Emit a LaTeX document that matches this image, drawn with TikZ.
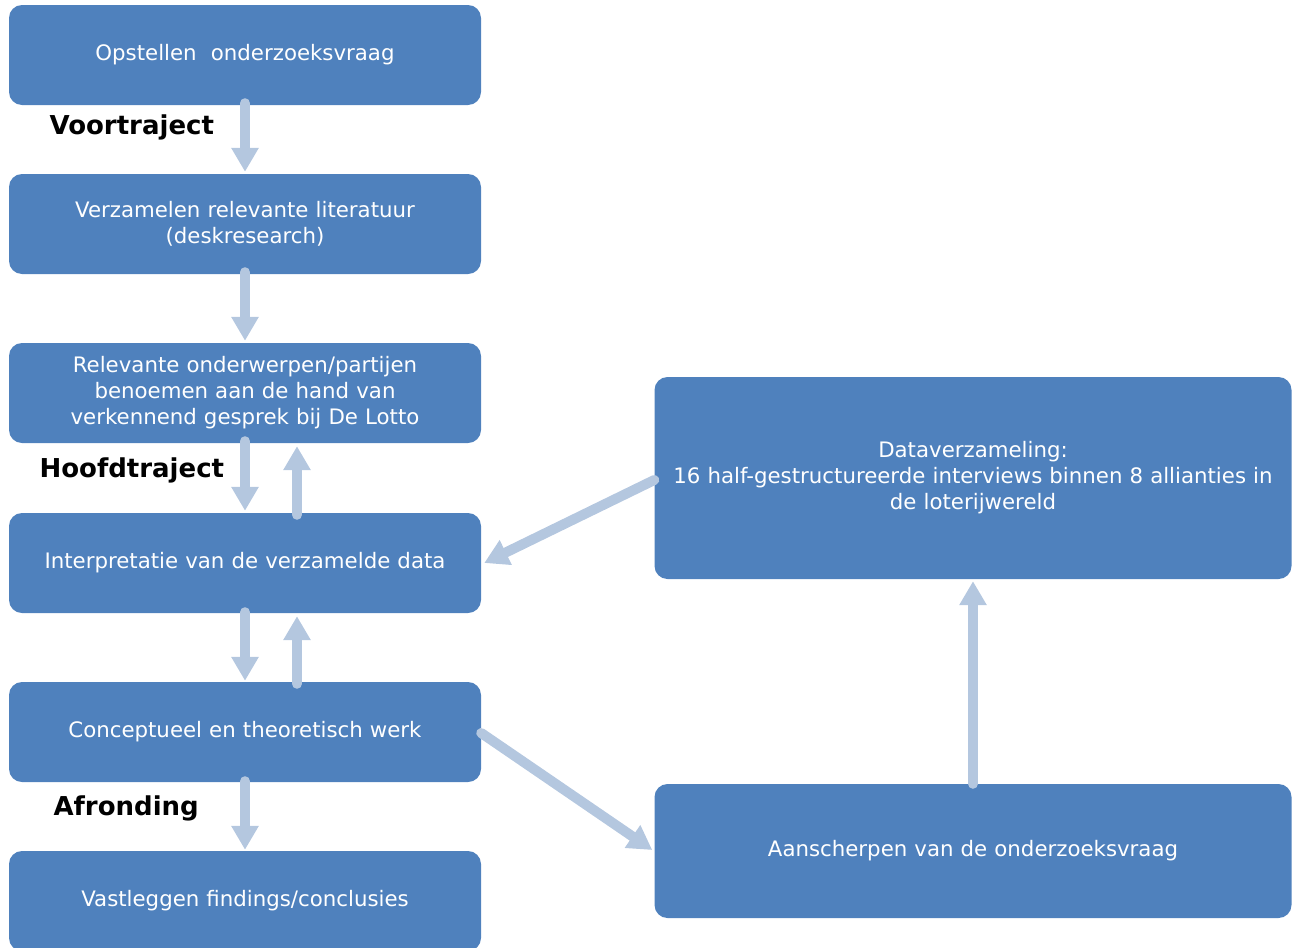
\documentclass[tikz,border=0pt]{standalone}
\usepackage{fontspec}
\setmainfont{DejaVu Sans}
\usetikzlibrary{arrows.meta}
\definecolor{BoxBlue}{HTML}{4F81BD}
\definecolor{FlowBlue}{HTML}{B4C7DF}
\tikzset{
	stepbox/.style={fill=BoxBlue, rounded corners=13pt, text=white, align=center,
		minimum width=472pt, minimum height=100pt, text width=460pt,
		font=\fontsize{21.3}{26}\selectfont, inner sep=0pt},
	widebox/.style={stepbox, minimum width=637pt, text width=630pt},
	flow/.style={draw=FlowBlue, line width=10pt, line cap=round,
		-{Triangle[width=26pt,length=24pt]}},
	phase/.style={font=\fontsize{26}{30}\selectfont\bfseries, anchor=west}
}
\begin{document}
\begin{tikzpicture}[x=1pt,y=-1pt]
	\useasboundingbox (0,0) rectangle (1294,948);
	
	% left column
	\node[stepbox] (Opstellen)    at (245,55)  {Opstellen \ onderzoeksvraag};
	\node[stepbox] (Verzamelen)   at (245,224) {Verzamelen relevante literatuur\\(deskresearch)};
	\node[stepbox] (Relevante)    at (245,393) {Relevante onderwerpen/partijen\\benoemen aan de hand van\\verkennend gesprek bij De Lotto};
	\node[stepbox] (Interpretatie) at (245,563) {Interpretatie van de verzamelde data};
	\node[stepbox] (Conceptueel)  at (245,732) {Conceptueel en theoretisch werk};
	\node[stepbox] (Vastleggen)   at (245,901) {Vastleggen findings/conclusies};
	
	% right column
	\node[widebox, minimum height=202pt] (Dataverzameling) at (973,478) {Dataverzameling:\\16 half-gestructureerde interviews binnen 8 allianties in\\de loterijwereld};
	\node[widebox, minimum height=134pt] (Aanscherpen) at (973,851) {Aanscherpen van de onderzoeksvraag};
	
	\node[phase] (Voortraject)  at (46,127) {Voortraject};
	\node[phase] (Hoofdtraject) at (36,470) {Hoofdtraject};
	\node[phase] (Afronding)    at (50,808) {Afronding};
	
	\draw[flow] ([yshift=2pt]Opstellen.south) -- ([yshift=2pt]Verzamelen.north);
	\draw[flow] ([yshift=2pt]Verzamelen.south) -- ([yshift=2pt]Relevante.north);
	\draw[flow] ([yshift=2pt]Relevante.south) -- ([yshift=2pt]Interpretatie.north);
	\draw[flow] ([xshift=52pt,yshift=-2pt]Interpretatie.north) -- ([xshift=52pt,yshift=-3pt]Relevante.south);
	\draw[flow] ([yshift=1pt]Interpretatie.south) -- ([yshift=1pt]Conceptueel.north);
	\draw[flow] ([xshift=52pt,yshift=-2pt]Conceptueel.north) -- ([xshift=52pt,yshift=-3pt]Interpretatie.south);
	\draw[flow] ([yshift=1pt]Conceptueel.south) -- ([yshift=1pt]Vastleggen.north);% to the end
	
	\draw[flow] ([yshift=-2pt]Dataverzameling.west) -- ([xshift=3pt]Interpretatie.east);
	\draw[flow] ([yshift=-1pt]Conceptueel.east) -- ([xshift=-2pt,yshift=1pt]Aanscherpen.west);
	\draw[flow] (Aanscherpen.north) -- ([yshift=-2pt]Dataverzameling.south);
	
\end{tikzpicture}
\end{document}
